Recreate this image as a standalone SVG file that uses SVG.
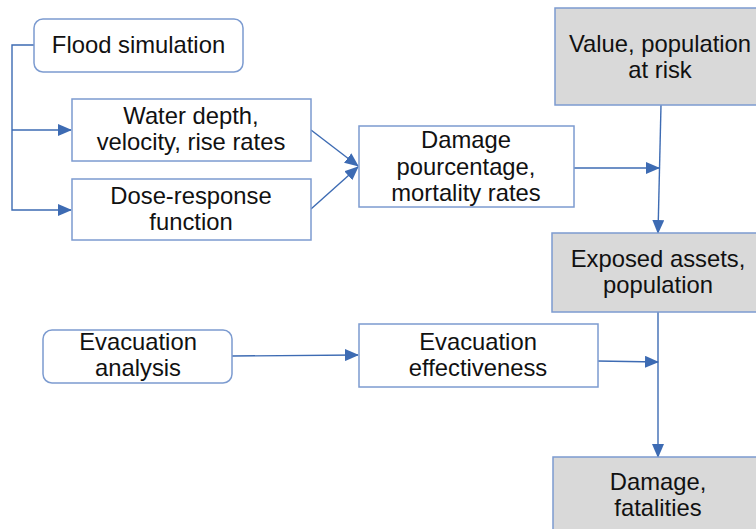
<svg xmlns="http://www.w3.org/2000/svg" width="756" height="529" viewBox="0 0 756 529">
  <style>
    .box { fill: #ffffff; stroke: #7c9bd0; stroke-width: 1.5; }
    .grey { fill: #d9d9d9; stroke: #7c9bd0; stroke-width: 1.5; }
    .lbl { font-family: "Liberation Sans", Arial, sans-serif; font-size: 23.8px; fill: #111111; text-anchor: middle; }
    .wire { fill: none; stroke: #3d6bb3; stroke-width: 1.4; }
  </style>
  <defs>
    <marker id="arrow" viewBox="0 0 14 12" refX="13" refY="6" markerWidth="14" markerHeight="12" markerUnits="userSpaceOnUse" orient="auto">
      <path d="M0,0 L14,6 L0,12 Z" fill="#3d6bb3"/>
    </marker>
  </defs>
  <rect width="756" height="529" fill="#ffffff"/>

  <g id="connectors">
    <path class="wire" d="M34,45 H12 V210 H71" marker-end="url(#arrow)"/>
    <path class="wire" d="M12,130 H71" marker-end="url(#arrow)"/>
    <path class="wire" d="M311,130 L358,166" marker-end="url(#arrow)"/>
    <path class="wire" d="M311,209 L358,167" marker-end="url(#arrow)"/>
    <path class="wire" d="M574,168 H659" marker-end="url(#arrow)"/>
    <path class="wire" d="M661,105 L658,233" marker-end="url(#arrow)"/>
    <path class="wire" d="M658,312 V457" marker-end="url(#arrow)"/>
    <path class="wire" d="M232,356 L358,355" marker-end="url(#arrow)"/>
    <path class="wire" d="M597,361 L658,362" marker-end="url(#arrow)"/>
  </g>

  <g id="flood-simulation">
    <rect class="box" x="34" y="19" width="209" height="53" rx="9"/>
    <text class="lbl" x="138.5" y="53">Flood simulation</text>
  </g>

  <g id="water-depth">
    <rect class="box" x="72" y="99" width="239" height="62"/>
    <text class="lbl" x="191" y="124">Water depth,</text>
    <text class="lbl" x="191" y="150">velocity, rise rates</text>
  </g>

  <g id="dose-response">
    <rect class="box" x="72" y="179" width="239" height="61"/>
    <text class="lbl" x="191" y="204">Dose-response</text>
    <text class="lbl" x="191" y="230">function</text>
  </g>

  <g id="damage-percentage">
    <rect class="box" x="359" y="126" width="215" height="81"/>
    <text class="lbl" x="466" y="148">Damage</text>
    <text class="lbl" x="466" y="175">pourcentage,</text>
    <text class="lbl" x="466" y="201">mortality rates</text>
  </g>

  <g id="value-at-risk">
    <rect class="grey" x="555" y="8" width="220" height="97"/>
    <text class="lbl" x="660" y="52">Value, population</text>
    <text class="lbl" x="660" y="78">at risk</text>
  </g>

  <g id="exposed-assets">
    <rect class="grey" x="552" y="233" width="220" height="79"/>
    <text class="lbl" x="658" y="267">Exposed assets,</text>
    <text class="lbl" x="658" y="293">population</text>
  </g>

  <g id="evacuation-analysis">
    <rect class="box" x="43" y="330" width="189" height="53" rx="9"/>
    <text class="lbl" x="138" y="350">Evacuation</text>
    <text class="lbl" x="138" y="376">analysis</text>
  </g>

  <g id="evacuation-effectiveness">
    <rect class="box" x="359" y="324" width="239" height="63"/>
    <text class="lbl" x="478" y="350">Evacuation</text>
    <text class="lbl" x="478" y="376">effectiveness</text>
  </g>

  <g id="damage-fatalities">
    <rect class="grey" x="553" y="457" width="220" height="90"/>
    <text class="lbl" x="658" y="490">Damage,</text>
    <text class="lbl" x="658" y="516">fatalities</text>
  </g>
</svg>
